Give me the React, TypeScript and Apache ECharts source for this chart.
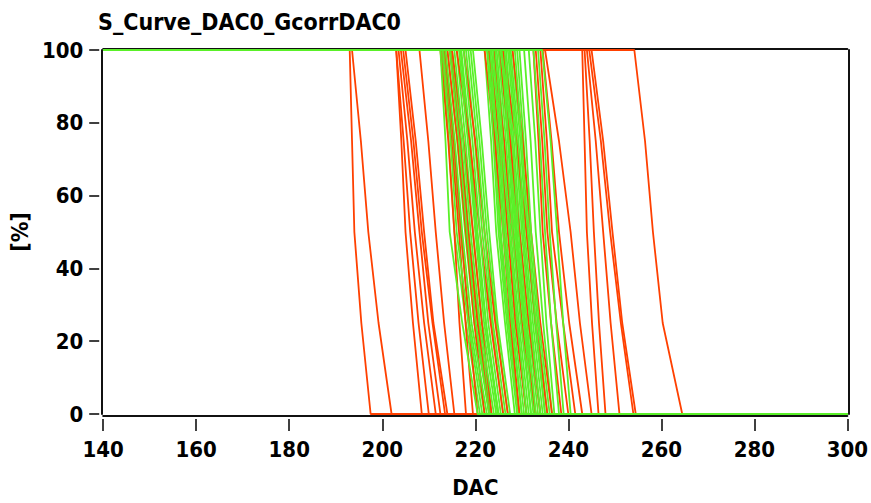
import React, { useEffect, useRef } from "react";
import * as echarts from "echarts";

// Occupancy levels at which each S-curve's DAC position was read (percent)
const levels: number[] = [100, 75, 50, 25, 0];

// Each S-curve: DAC where it crosses 100 %, 75 %, 50 %, 25 %, 0 %
const redCurvesOuter: number[][] = [
  [193, 193.5, 194, 195.5, 197.5],
  [193.5, 195.4, 197, 199.2, 202],
  [203, 204.1, 205, 206.6, 208.5],
  [203, 204.6, 206, 207.8, 210],
  [203.5, 205.4, 207, 209, 211.5],
  [204, 206.2, 208, 209.9, 212.5],
  [204.5, 206.7, 208.5, 210.8, 213.5],
  [205, 207.2, 209, 211, 214],
  [208, 209.9, 211.5, 213.3, 215.5],
  [232.5, 233.6, 234.5, 236.3, 238.5],
  [233, 234.4, 235.5, 237.5, 240],
  [234, 235.4, 236.5, 238.9, 241.5],
  [234.5, 236.4, 238, 240.2, 243],
  [235, 238, 240.5, 242.5, 245],
  [243, 243.5, 244, 245.1, 246.5],
  [243.5, 244.6, 245.5, 246.6, 248],
  [244, 245.9, 247.5, 249.1, 251],
  [244.5, 247, 249, 251.3, 254],
  [245, 247.5, 249.5, 251.6, 254.5],
  [254.2, 256.5, 258.2, 260.3, 264.5],
];

const redCurvesBand: number[][] = [
  [212.5, 214.2, 215.5, 216.6, 218],
  [213, 214.9, 216.5, 217.9, 219.5],
  [213.5, 215.4, 217, 218.6, 220.5],
  [214, 216.2, 218, 219.8, 222],
  [214.5, 216.7, 218.5, 220.5, 223],
  [215, 217.5, 219.5, 221.4, 223.5],
  [216, 218.8, 221, 223.3, 226],
  [217.5, 220, 222, 224.3, 227],
  [222, 224.2, 226, 227.6, 229.5],
  [223, 225.2, 227, 228.6, 231],
  [224, 226.2, 228, 230, 233],
  [225, 227.5, 229.5, 231.5, 234],
  [226, 228.8, 231, 233, 235.5],
  [228, 230.2, 232, 234, 236.5],
];

const greenCurvesUnder: number[][] = [
  [212.8, 214.3, 215.5, 218, 221],
  [213.3, 215.2, 216.8, 218.8, 222],
  [214, 216.1, 217.8, 219.8, 223],
  [214.8, 216.7, 218.3, 220.5, 223.3],
  [215, 217, 218.6, 220.7, 223.5],
  [216, 217.9, 219.5, 221.5, 224.5],
  [216.8, 218.7, 220.2, 222.3, 224.8],
  [217, 218.9, 220.5, 222.3, 225],
  [218, 219.9, 221.5, 223.5, 226],
  [219, 220.9, 222.5, 224.5, 227],
  [222, 223.4, 224.5, 226.4, 228.5],
  [222.8, 224.2, 225.3, 227.1, 229.3],
  [223, 224.4, 225.5, 227.3, 229.5],
  [223.5, 225, 226.3, 228, 230],
  [224, 225.6, 227, 228.9, 231],
  [224.6, 226.2, 227.6, 229.4, 231.5],
  [225.3, 227, 228.3, 230.1, 232],
  [225.8, 227.5, 228.8, 230.6, 232.8],
  [226, 227.7, 229, 230.8, 233],
  [226.6, 228.3, 229.6, 231.4, 233.5],
  [227.3, 229, 230.3, 232, 234],
  [228, 229.7, 231, 232.8, 235],
  [229, 230.4, 231.6, 233.4, 235.5],
  [230.5, 231.9, 233, 234.6, 236.5],
  [232.5, 233.9, 235, 236.3, 238],
];

const greenCurvesOver: number[][] = [
  [213, 214.7, 216, 218.5, 221.5],
  [213.6, 215.6, 217.2, 219.2, 222.5],
  [214.5, 216.5, 218.2, 220.1, 223],
  [215.5, 217.4, 219, 221, 224],
  [216.5, 218.4, 220, 221.9, 225],
  [217.5, 219.4, 221, 222.8, 225.5],
  [218.5, 220.4, 222, 223.8, 226.5],
  [219.5, 221.4, 223, 224.8, 227.5],
  [222.5, 223.9, 225, 226.8, 229],
  [223.2, 224.7, 226, 227.8, 230],
  [223.8, 225.3, 226.6, 228.3, 230.5],
  [224.3, 225.9, 227.3, 229.1, 231],
  [225, 226.6, 228, 229.8, 232],
  [225.6, 227.2, 228.6, 230.4, 232.5],
  [226.3, 228, 229.3, 231.1, 233],
  [227, 228.7, 230, 231.8, 234],
  [227.6, 229.3, 230.6, 232.4, 234.5],
  [228.5, 230, 231.3, 233, 235],
  [229.5, 230.9, 232, 233.7, 236],
  [231.5, 232.9, 234, 235.3, 237],
  [233.5, 234.9, 236, 237.4, 239],
  [234.4, 236.2, 237.6, 238.9, 240.5],
  [212.5, 213.6, 214.5, 217.2, 220.5],
];

const xMin = 140;
const xMax = 300;
const xStep = 20;
const yMin = 0;
const yMax = 100;
const yStep = 20;

const RED = "#ff4000";
const GREEN = "#5af028";
const FONT = "DejaVu Sans Condensed";

function curveSeries(c: number[], color: string) {
  const pts: number[][] = [[xMin, levels[0]]];
  c.forEach((x, i) => pts.push([x, levels[i]]));
  pts.push([xMax, levels[levels.length - 1]]);
  return {
    type: "line",
    xAxisIndex: 0,
    yAxisIndex: 0,
    showSymbol: false,
    silent: true,
    data: pts,
    lineStyle: { color, width: 1.8 },
  };
}

export default function App() {
  const ref = useRef<HTMLDivElement>(null);
  useEffect(() => {
    document.body.style.margin = "0";
    const chart = echarts.init(ref.current!, null, { renderer: "svg" });
    const xBase = { type: "value", min: xMin, max: xMax, interval: xStep, splitLine: { show: false } };
    const yBase = { type: "value", min: yMin, max: yMax, interval: yStep, splitLine: { show: false } };
    const frameLine = { show: true, onZero: false, lineStyle: { color: "#111", width: 2 } };
    const labelStyle = { color: "#000", fontFamily: FONT, fontWeight: "bold", fontSize: 22 };
    const series = [
      ...redCurvesOuter.map((c) => curveSeries(c, RED)),
      ...greenCurvesUnder.map((c) => curveSeries(c, GREEN)),
      ...redCurvesBand.map((c) => curveSeries(c, RED)),
      ...greenCurvesOver.map((c) => curveSeries(c, GREEN)),
    ];
    chart.setOption({
      animation: false,
      backgroundColor: "#fff",
      title: {
        text: "S_Curve_DAC0_GcorrDAC0",
        left: 93,
        top: 5,
        textStyle: { color: "#000", fontFamily: FONT, fontWeight: "bold", fontSize: 23 },
      },
      grid: { left: 102, right: 23, top: 50, bottom: 85 },
      xAxis: [
        { ...xBase, position: "bottom", offset: 2, axisLine: frameLine, axisTick: { show: false }, axisLabel: { show: false } },
        {
          ...xBase,
          position: "bottom",
          offset: 5,
          axisLine: { show: false, onZero: false },
          axisTick: { show: true, length: 12, lineStyle: { color: "#000", width: 1.5 } },
          axisLabel: { ...labelStyle, margin: 19 },
          name: "DAC",
          nameLocation: "middle",
          nameGap: 57,
          nameTextStyle: { ...labelStyle },
        },
        { ...xBase, position: "top", offset: 1.5, axisLine: frameLine, axisTick: { show: false }, axisLabel: { show: false } },
      ],
      yAxis: [
        { ...yBase, position: "left", offset: 1, axisLine: frameLine, axisTick: { show: false }, axisLabel: { show: false } },
        {
          ...yBase,
          position: "left",
          offset: 4,
          axisLine: { show: false, onZero: false },
          axisTick: { show: true, length: 10, lineStyle: { color: "#000", width: 1.5 } },
          axisLabel: { ...labelStyle, margin: 16 },
          name: "[%]",
          nameLocation: "middle",
          nameGap: 66,
          nameTextStyle: { ...labelStyle, fontSize: 23 },
        },
        { ...yBase, position: "right", offset: 1.5, axisLine: frameLine, axisTick: { show: false }, axisLabel: { show: false } },
      ],
      series,
    });
    return () => chart.dispose();
  }, []);
  return <div ref={ref} style={{ width: 871, height: 503 }} />;
}
